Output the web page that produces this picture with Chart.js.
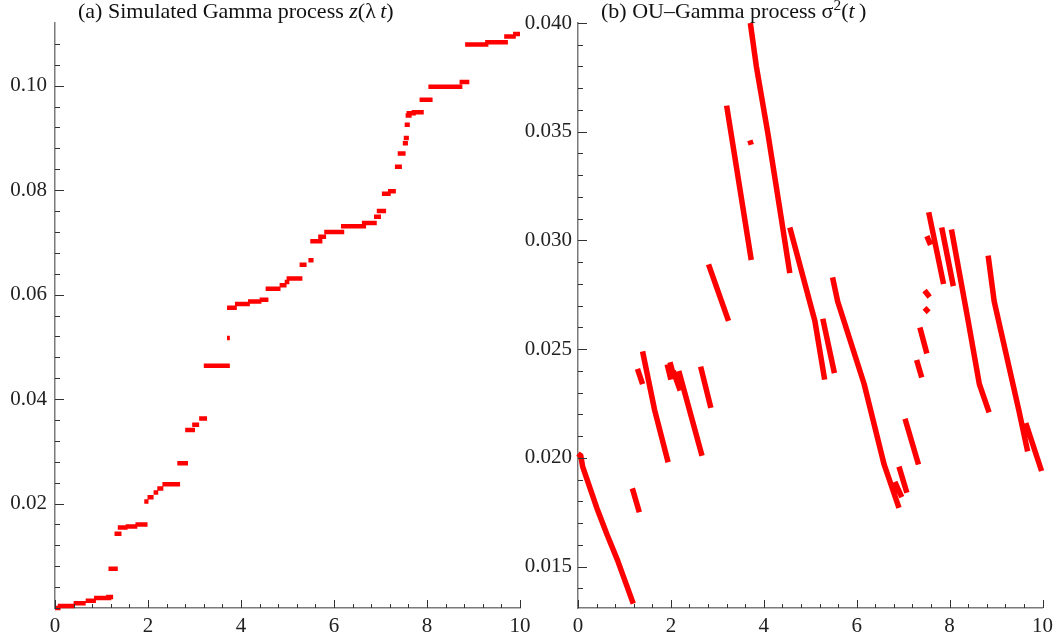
<!DOCTYPE html>
<html>
<head>
<meta charset="utf-8">
<script src="https://cdn.jsdelivr.net/npm/chart.js@4"></script>
<style>
  body { margin: 0; background: #fff; width: 1059px; height: 643px; overflow: hidden; position: relative; }
  canvas { position: absolute; top: 0; }
  .ttl { position: absolute; top: -1px; font: 22px "Liberation Serif", serif; color: #111; white-space: nowrap; line-height: 24px; }
  .ttl sup { font-size: 70%; vertical-align: 0.55em; line-height: 0; }
</style>
</head>
<body>
<canvas id="gammaChart" width="540" height="643" style="left:0"></canvas>
<canvas id="ouChart" width="559" height="643" style="left:500px"></canvas>
<div class="ttl" style="left:78px">(a) Simulated Gamma process <i>z</i>(λ&thinsp;<i>t</i>)</div>
<div class="ttl" style="left:601px">(b) OU–Gamma process σ<sup>2</sup>(<i>t</i>&thinsp;)</div>
<script>
// ---- (a) Gamma process: flat runs ----
const stepStart = [0.00, 0.06, 0.40, 0.66, 0.84, 1.10, 1.15, 1.28, 1.35, 1.52, 1.73, 1.92, 1.99, 2.12, 2.20, 2.31,
  2.63, 2.80, 2.95, 3.10, 3.20, 3.70, 3.70, 3.87, 4.15, 4.40, 4.53, 4.83, 4.94, 4.98, 5.26, 5.45, 5.49, 5.66,
  5.79, 6.15, 6.60, 6.86, 6.92, 7.03, 7.16, 7.31, 7.37, 7.48, 7.50, 7.52, 7.54, 7.56, 7.67, 7.84, 8.03, 8.70,
  8.82, 9.25, 9.66, 9.85];
const stepEnd = [0.12, 0.43, 0.66, 0.88, 1.21, 1.25, 1.35, 1.43, 1.56, 1.77, 1.99, 2.01, 2.12, 2.22, 2.33, 2.69,
  2.86, 3.01, 3.10, 3.27, 3.76, 3.76, 3.91, 4.19, 4.44, 4.59, 4.85, 4.98, 5.04, 5.32, 5.41, 5.56, 5.75, 5.83,
  6.22, 6.69, 6.92, 7.01, 7.12, 7.22, 7.33, 7.46, 7.54, 7.59, 7.61, 7.63, 7.67, 7.76, 7.93, 8.12, 8.76, 8.91,
  9.32, 9.74, 9.91, 10.00];
const stepLevel = [0.0000, 0.0004, 0.0009, 0.0014, 0.0019, 0.0021, 0.0075, 0.0142, 0.0154, 0.0156, 0.0160, 0.0204,
  0.0212, 0.0221, 0.0229, 0.0237, 0.0277, 0.0341, 0.0351, 0.0363, 0.0464, 0.0517, 0.0575, 0.0582, 0.0587,
  0.0590, 0.0611, 0.0618, 0.0624, 0.0631, 0.0657, 0.0666, 0.0702, 0.0711, 0.0720, 0.0731, 0.0737, 0.0749,
  0.0760, 0.0793, 0.0798, 0.0845, 0.0870, 0.0890, 0.0900, 0.0925, 0.0943, 0.0947, 0.0949, 0.0973, 0.0998,
  0.1007, 0.1079, 0.1083, 0.1094, 0.1099];

// ---- (b) OU-Gamma process: decaying pieces between jumps ----
const ouX = [
  [0.00, 0.06, 0.10, 0.405, 0.62, 0.85, 1.19],
  [1.17, 1.32],
  [1.28, 1.39],
  [1.39, 1.65, 1.94],
  [1.92, 2.00],
  [1.98, 2.07],
  [2.05, 2.20],
  [2.17, 2.67],
  [2.64, 2.86],
  [2.81, 3.24],
  [3.20, 3.73],
  [3.70, 3.73],
  [3.71, 3.84, 4.09, 4.37, 4.56],
  [4.56, 5.10, 5.31],
  [5.27, 5.52],
  [5.48, 5.59, 6.16, 6.59, 6.91],
  [6.82, 6.97],
  [6.91, 7.08],
  [7.04, 7.33],
  [7.29, 7.40],
  [7.36, 7.51],
  [7.46, 7.55],
  [7.46, 7.57],
  [7.51, 7.59],
  [7.55, 7.87],
  [7.83, 8.08],
  [8.04, 8.40, 8.64, 8.85],
  [8.83, 8.96, 9.49, 9.68],
  [9.64, 9.98]
];
const ouY = [
  [0.0202, 0.0201, 0.0196, 0.0177, 0.0165, 0.0153, 0.0133],
  [0.0186, 0.0175],
  [0.0241, 0.0234],
  [0.0249, 0.0222, 0.0198],
  [0.0243, 0.0236],
  [0.0244, 0.0237],
  [0.0240, 0.0231],
  [0.0240, 0.0201],
  [0.0242, 0.0223],
  [0.0289, 0.0263],
  [0.0362, 0.0291],
  [0.0346, 0.0344],
  [0.0400, 0.0380, 0.0349, 0.0311, 0.0285],
  [0.0306, 0.0263, 0.0236],
  [0.0264, 0.0239],
  [0.0283, 0.0272, 0.0234, 0.0197, 0.0177],
  [0.0189, 0.0182],
  [0.0196, 0.0184],
  [0.0218, 0.0197],
  [0.0245, 0.0237],
  [0.0260, 0.0248],
  [0.0269, 0.0267],
  [0.0277, 0.0274],
  [0.0302, 0.0298],
  [0.0313, 0.0280],
  [0.0306, 0.0279],
  [0.0305, 0.0263, 0.0234, 0.0221],
  [0.0293, 0.0272, 0.0222, 0.0203],
  [0.0216, 0.0194]
];

// ---- axes ----
const xLabels = ['0', '2', '4', '6', '8', '10'];
const yLabelsA = ['0.02', '0.04', '0.06', '0.08', '0.10'];
const yLabelsB = ['0.015', '0.020', '0.025', '0.030', '0.035', '0.040'];

const RED = '#ff0000';
const FONT = { family: '"Liberation Serif", serif', size: 21 };

function tickRange(from, to, step) {
    const out = [];
    const n = Math.round((to - from) / step);
    for (let i = 0; i <= n; i++) out.push(+(from + i * step).toFixed(6));
    return out;
}

function labelFor(labels) {
    return function(value) {
        const hit = labels.find(l => Math.abs(parseFloat(l) - value) < 1e-7);
        return hit || '';
    };
}

// inward tick marks, long on labelled ticks
const tickMarks = {
    id: 'tickMarks',
    afterDraw(chart) {
        const ctx = chart.ctx;
        const xs = chart.scales.x, ys = chart.scales.y;
        ctx.save();
        ctx.strokeStyle = '#333';
        ctx.lineWidth = 1;
        xs.ticks.forEach(t => {
            const px = Math.round(xs.getPixelForValue(t.value)) + 0.5;
            const len = t.label ? 8 : 4;
            ctx.beginPath();
            ctx.moveTo(px, ys.bottom);
            ctx.lineTo(px, ys.bottom - len);
            ctx.stroke();
        });
        ys.ticks.forEach(t => {
            const py = Math.round(ys.getPixelForValue(t.value)) + 0.5;
            const len = t.label ? 9 : 5;
            ctx.beginPath();
            ctx.moveTo(xs.left, py);
            ctx.lineTo(xs.left + len, py);
            ctx.stroke();
        });
        ctx.restore();
    }
};

function axisX() {
    const ticks = tickRange(0, 10, 0.4);
    return {
        type: 'linear', min: 0, max: 10,
        afterBuildTicks: s => { s.ticks = ticks.map(v => ({ value: v })); },
        afterFit: s => { s.height = 35; },
        grid: { display: false, drawTicks: false },
        border: { color: '#7a7a7a', width: 1.5 },
        ticks: { callback: labelFor(xLabels), font: FONT, color: '#222', padding: 6, autoSkip: false, maxRotation: 0 }
    };
}

function axisY(min, max, ticks, labels, width, pad) {
    return {
        type: 'linear', min: min, max: max,
        afterBuildTicks: s => { s.ticks = ticks.map(v => ({ value: v })); },
        afterFit: s => { s.width = width; },
        grid: { display: false, drawTicks: false },
        border: { color: '#7a7a7a', width: 1.5 },
        ticks: { callback: labelFor(labels), font: FONT, color: '#222', padding: pad, autoSkip: false }
    };
}

function baseOptions(padRight, yAxis) {
    return {
        responsive: false,
        devicePixelRatio: 1,
        animation: false,
        layout: { padding: { top: 23, right: padRight, bottom: 0, left: 0 } },
        plugins: { legend: { display: false }, tooltip: { enabled: false } },
        scales: { x: axisX(), y: yAxis }
    };
}

// (a) data: each run is two points, then a gap
const gammaData = [];
stepLevel.forEach((lvl, i) => {
    gammaData.push({ x: stepStart[i], y: lvl }, { x: stepEnd[i], y: lvl }, { x: stepEnd[i], y: null });
});

new Chart(document.getElementById('gammaChart'), {
    type: 'scatter',
    data: {
        datasets: [{
            data: gammaData,
            showLine: true,
            spanGaps: false,
            borderColor: RED,
            borderWidth: 4.5,
            borderCapStyle: 'butt',
            pointRadius: 0,
            clip: false
        }]
    },
    options: baseOptions(20, axisY(0, 0.112, tickRange(0, 0.108, 0.004), yLabelsA, 55, 8)),
    plugins: [tickMarks]
});

// (b) data: pieces joined by gaps
const ouData = [];
ouX.forEach((xs, k) => {
    xs.forEach((x, j) => ouData.push({ x: x, y: ouY[k][j] }));
    ouData.push({ x: xs[xs.length - 1], y: null });
});

new Chart(document.getElementById('ouChart'), {
    type: 'scatter',
    data: {
        datasets: [{
            data: ouData,
            showLine: true,
            spanGaps: false,
            borderColor: RED,
            borderWidth: 5.5,
            borderCapStyle: 'butt',
            borderJoinStyle: 'round',
            pointRadius: 0,
            clip: false
        }]
    },
    options: baseOptions(13, axisY(0.0131, 0.040, tickRange(0.014, 0.040, 0.001), yLabelsB, 78, 6)),
    plugins: [tickMarks]
});
</script>
</body>
</html>
